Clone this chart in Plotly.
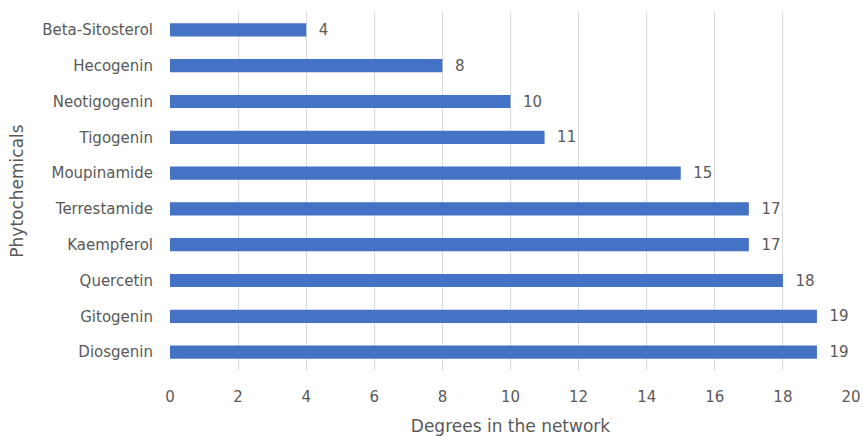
import plotly.graph_objects as go

categories = ["Diosgenin", "Gitogenin", "Quercetin", "Kaempferol", "Terrestamide",
              "Moupinamide", "Tigogenin", "Neotigogenin", "Hecogenin", "Beta-Sitosterol"]
degrees = [19, 19, 18, 17, 17, 15, 11, 10, 8, 4]
x_ticks = list(range(0, 21, 2))

FONT = "'DejaVu Sans', sans-serif"
GRAY = "#595959"

fig = go.Figure(go.Bar(
    y=categories, x=degrees, orientation="h",
    marker=dict(color="#4472C4", line=dict(width=0)),
    width=0.37,
    text=[str(v) for v in degrees], textposition="outside",
    texttemplate="\u00a0\u00a0%{text}",
    constraintext="none",
    textfont=dict(family=FONT, size=15, color=GRAY),
    cliponaxis=False,
))

fig.update_layout(
    width=863, height=436,
    margin=dict(l=170, r=12, t=12, b=66, autoexpand=False),
    plot_bgcolor="white", paper_bgcolor="white",
    showlegend=False,
    font=dict(family=FONT, size=15, color=GRAY),
    xaxis=dict(
        range=[0, 20], tickvals=x_ticks, showgrid=True, gridcolor="#D9D9D9", gridwidth=1,
        zeroline=False, showline=False, ticks="", ticklabelstandoff=16, automargin=False,
        tickfont=dict(family=FONT, size=15, color=GRAY),
        title=dict(text="Degrees in the network", font=dict(family=FONT, size=17, color=GRAY), standoff=15),
    ),
    yaxis=dict(
        categoryorder="array", categoryarray=categories,
        showgrid=False, zeroline=False, showline=False, ticks="", automargin=False,
        ticklabelstandoff=16,
        tickfont=dict(family=FONT, size=15, color=GRAY),
        title=dict(text="Phytochemicals", font=dict(family=FONT, size=17, color=GRAY), standoff=14),
    ),
)

fig.write_html("out.html")
